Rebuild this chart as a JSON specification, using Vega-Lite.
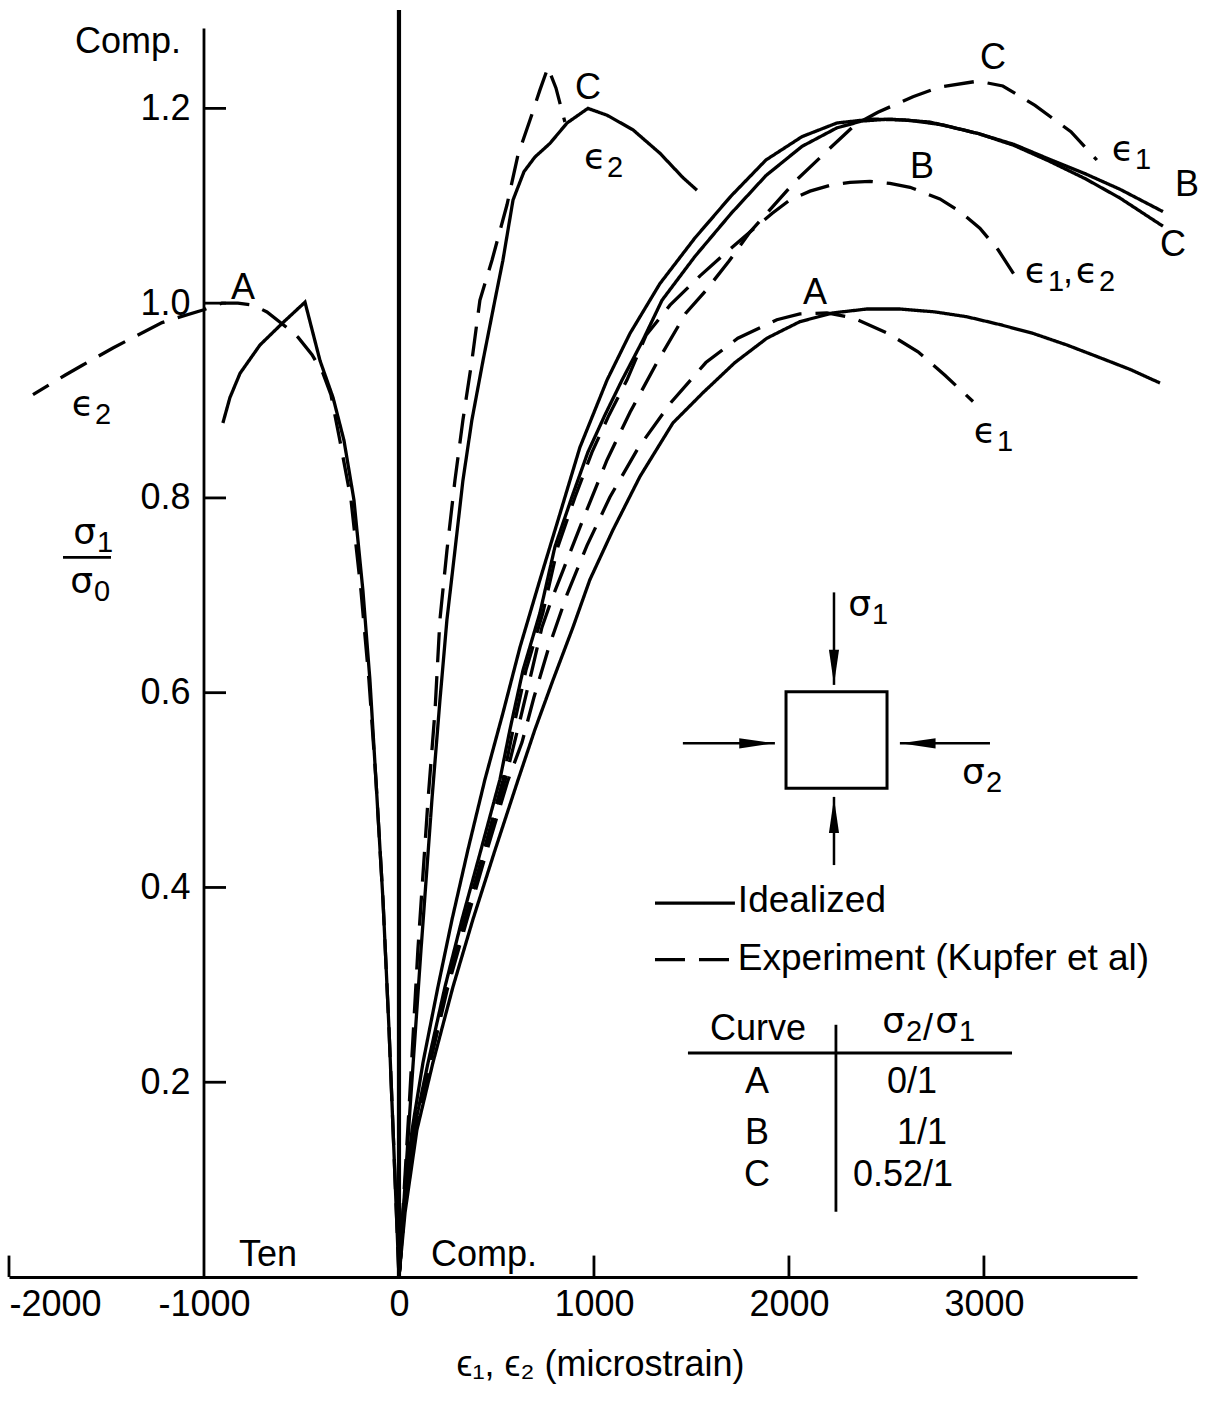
{
"$schema": "https://vega.github.io/schema/vega-lite/v6.json",
"width": 1128, "height": 1266,
"autosize": {"type": "none"},
"padding": {"left": 9, "top": 11, "right": 78, "bottom": 125},
"background": "white",
"config": {"view": {"stroke": null}, "font": "Liberation Sans", "axis": {"grid": false, "labelFont": "Liberation Sans", "titleFont": "Liberation Sans"}},
"datasets": {
"curves": [
{"c":"A_e1_i","k":"Idealized","i":0,"x":0,"y":0},{"c":"A_e1_i","k":"Idealized","i":1,"x":31,"y":0.066},{"c":"A_e1_i","k":"Idealized","i":2,"x":92,"y":0.151},{"c":"A_e1_i","k":"Idealized","i":3,"x":174,"y":0.22},{"c":"A_e1_i","k":"Idealized","i":4,"x":277,"y":0.298},{"c":"A_e1_i","k":"Idealized","i":5,"x":379,"y":0.367},{"c":"A_e1_i","k":"Idealized","i":6,"x":492,"y":0.438},{"c":"A_e1_i","k":"Idealized","i":7,"x":610,"y":0.51},{"c":"A_e1_i","k":"Idealized","i":8,"x":697,"y":0.562},{"c":"A_e1_i","k":"Idealized","i":9,"x":790,"y":0.613},{"c":"A_e1_i","k":"Idealized","i":10,"x":892,"y":0.667},{"c":"A_e1_i","k":"Idealized","i":11,"x":979,"y":0.716},{"c":"A_e1_i","k":"Idealized","i":12,"x":1097,"y":0.767},{"c":"A_e1_i","k":"Idealized","i":13,"x":1236,"y":0.822},{"c":"A_e1_i","k":"Idealized","i":14,"x":1405,"y":0.877},{"c":"A_e1_i","k":"Idealized","i":15,"x":1559,"y":0.908},{"c":"A_e1_i","k":"Idealized","i":16,"x":1723,"y":0.939},{"c":"A_e1_i","k":"Idealized","i":17,"x":1887,"y":0.964},{"c":"A_e1_i","k":"Idealized","i":18,"x":2056,"y":0.981},{"c":"A_e1_i","k":"Idealized","i":19,"x":2226,"y":0.99},{"c":"A_e1_i","k":"Idealized","i":20,"x":2400,"y":0.994},{"c":"A_e1_i","k":"Idealized","i":21,"x":2569,"y":0.994},{"c":"A_e1_i","k":"Idealized","i":22,"x":2749,"y":0.991},{"c":"A_e1_i","k":"Idealized","i":23,"x":2913,"y":0.986},{"c":"A_e1_i","k":"Idealized","i":24,"x":3082,"y":0.978},{"c":"A_e1_i","k":"Idealized","i":25,"x":3251,"y":0.969},{"c":"A_e1_i","k":"Idealized","i":26,"x":3426,"y":0.957},{"c":"A_e1_i","k":"Idealized","i":27,"x":3595,"y":0.944},{"c":"A_e1_i","k":"Idealized","i":28,"x":3749,"y":0.932},{"c":"A_e1_i","k":"Idealized","i":29,"x":3903,"y":0.918},
{"c":"A_e1_x","k":"Experiment","i":0,"x":0,"y":0},{"c":"A_e1_x","k":"Experiment","i":1,"x":26,"y":0.066},{"c":"A_e1_x","k":"Experiment","i":2,"x":82,"y":0.151},{"c":"A_e1_x","k":"Experiment","i":3,"x":159,"y":0.22},{"c":"A_e1_x","k":"Experiment","i":4,"x":251,"y":0.298},{"c":"A_e1_x","k":"Experiment","i":5,"x":349,"y":0.367},{"c":"A_e1_x","k":"Experiment","i":6,"x":451,"y":0.438},{"c":"A_e1_x","k":"Experiment","i":7,"x":559,"y":0.51},{"c":"A_e1_x","k":"Experiment","i":8,"x":631,"y":0.549},{"c":"A_e1_x","k":"Experiment","i":9,"x":692,"y":0.595},{"c":"A_e1_x","k":"Experiment","i":10,"x":769,"y":0.647},{"c":"A_e1_x","k":"Experiment","i":11,"x":862,"y":0.701},{"c":"A_e1_x","k":"Experiment","i":12,"x":964,"y":0.751},{"c":"A_e1_x","k":"Experiment","i":13,"x":1082,"y":0.801},{"c":"A_e1_x","k":"Experiment","i":14,"x":1226,"y":0.851},{"c":"A_e1_x","k":"Experiment","i":15,"x":1395,"y":0.898},{"c":"A_e1_x","k":"Experiment","i":16,"x":1574,"y":0.939},{"c":"A_e1_x","k":"Experiment","i":17,"x":1738,"y":0.964},{"c":"A_e1_x","k":"Experiment","i":18,"x":1938,"y":0.983},{"c":"A_e1_x","k":"Experiment","i":19,"x":2056,"y":0.989},{"c":"A_e1_x","k":"Experiment","i":20,"x":2195,"y":0.99},{"c":"A_e1_x","k":"Experiment","i":21,"x":2328,"y":0.985},{"c":"A_e1_x","k":"Experiment","i":22,"x":2508,"y":0.969},{"c":"A_e1_x","k":"Experiment","i":23,"x":2662,"y":0.95},{"c":"A_e1_x","k":"Experiment","i":24,"x":2800,"y":0.926},{"c":"A_e1_x","k":"Experiment","i":25,"x":2944,"y":0.899},
{"c":"B_e1_i","k":"Idealized","i":0,"x":0,"y":0},{"c":"B_e1_i","k":"Idealized","i":1,"x":21,"y":0.066},{"c":"B_e1_i","k":"Idealized","i":2,"x":67,"y":0.151},{"c":"B_e1_i","k":"Idealized","i":3,"x":123,"y":0.22},{"c":"B_e1_i","k":"Idealized","i":4,"x":200,"y":0.298},{"c":"B_e1_i","k":"Idealized","i":5,"x":272,"y":0.367},{"c":"B_e1_i","k":"Idealized","i":6,"x":354,"y":0.439},{"c":"B_e1_i","k":"Idealized","i":7,"x":441,"y":0.511},{"c":"B_e1_i","k":"Idealized","i":8,"x":533,"y":0.579},{"c":"B_e1_i","k":"Idealized","i":9,"x":621,"y":0.647},{"c":"B_e1_i","k":"Idealized","i":10,"x":723,"y":0.716},{"c":"B_e1_i","k":"Idealized","i":11,"x":826,"y":0.784},{"c":"B_e1_i","k":"Idealized","i":12,"x":928,"y":0.852},{"c":"B_e1_i","k":"Idealized","i":13,"x":1067,"y":0.921},{"c":"B_e1_i","k":"Idealized","i":14,"x":1185,"y":0.969},{"c":"B_e1_i","k":"Idealized","i":15,"x":1272,"y":0.998},{"c":"B_e1_i","k":"Idealized","i":16,"x":1338,"y":1.02},{"c":"B_e1_i","k":"Idealized","i":17,"x":1518,"y":1.067},{"c":"B_e1_i","k":"Idealized","i":18,"x":1703,"y":1.11},{"c":"B_e1_i","k":"Idealized","i":19,"x":1882,"y":1.147},{"c":"B_e1_i","k":"Idealized","i":20,"x":2067,"y":1.171},{"c":"B_e1_i","k":"Idealized","i":21,"x":2246,"y":1.185},{"c":"B_e1_i","k":"Idealized","i":22,"x":2426,"y":1.189},{"c":"B_e1_i","k":"Idealized","i":23,"x":2610,"y":1.188},{"c":"B_e1_i","k":"Idealized","i":24,"x":2790,"y":1.183},{"c":"B_e1_i","k":"Idealized","i":25,"x":2974,"y":1.174},{"c":"B_e1_i","k":"Idealized","i":26,"x":3154,"y":1.163},{"c":"B_e1_i","k":"Idealized","i":27,"x":3333,"y":1.148},{"c":"B_e1_i","k":"Idealized","i":28,"x":3518,"y":1.133},{"c":"B_e1_i","k":"Idealized","i":29,"x":3697,"y":1.117},{"c":"B_e1_i","k":"Idealized","i":30,"x":3918,"y":1.094},
{"c":"C_e1_i","k":"Idealized","i":0,"x":0,"y":0},{"c":"C_e1_i","k":"Idealized","i":1,"x":26,"y":0.066},{"c":"C_e1_i","k":"Idealized","i":2,"x":77,"y":0.151},{"c":"C_e1_i","k":"Idealized","i":3,"x":149,"y":0.22},{"c":"C_e1_i","k":"Idealized","i":4,"x":236,"y":0.298},{"c":"C_e1_i","k":"Idealized","i":5,"x":323,"y":0.367},{"c":"C_e1_i","k":"Idealized","i":6,"x":421,"y":0.439},{"c":"C_e1_i","k":"Idealized","i":7,"x":518,"y":0.511},{"c":"C_e1_i","k":"Idealized","i":8,"x":569,"y":0.562},{"c":"C_e1_i","k":"Idealized","i":9,"x":636,"y":0.623},{"c":"C_e1_i","k":"Idealized","i":10,"x":723,"y":0.682},{"c":"C_e1_i","k":"Idealized","i":11,"x":800,"y":0.75},{"c":"C_e1_i","k":"Idealized","i":12,"x":887,"y":0.801},{"c":"C_e1_i","k":"Idealized","i":13,"x":969,"y":0.847},{"c":"C_e1_i","k":"Idealized","i":14,"x":1056,"y":0.885},{"c":"C_e1_i","k":"Idealized","i":15,"x":1144,"y":0.921},{"c":"C_e1_i","k":"Idealized","i":16,"x":1251,"y":0.962},{"c":"C_e1_i","k":"Idealized","i":17,"x":1349,"y":1.003},{"c":"C_e1_i","k":"Idealized","i":18,"x":1518,"y":1.048},{"c":"C_e1_i","k":"Idealized","i":19,"x":1703,"y":1.092},{"c":"C_e1_i","k":"Idealized","i":20,"x":1882,"y":1.131},{"c":"C_e1_i","k":"Idealized","i":21,"x":2067,"y":1.161},{"c":"C_e1_i","k":"Idealized","i":22,"x":2246,"y":1.18},{"c":"C_e1_i","k":"Idealized","i":23,"x":2374,"y":1.187},{"c":"C_e1_i","k":"Idealized","i":24,"x":2518,"y":1.189},{"c":"C_e1_i","k":"Idealized","i":25,"x":2723,"y":1.186},{"c":"C_e1_i","k":"Idealized","i":26,"x":2974,"y":1.174},{"c":"C_e1_i","k":"Idealized","i":27,"x":3154,"y":1.162},{"c":"C_e1_i","k":"Idealized","i":28,"x":3333,"y":1.146},{"c":"C_e1_i","k":"Idealized","i":29,"x":3518,"y":1.128},{"c":"C_e1_i","k":"Idealized","i":30,"x":3697,"y":1.108},{"c":"C_e1_i","k":"Idealized","i":31,"x":3918,"y":1.079},
{"c":"B_x","k":"Experiment","i":0,"x":0,"y":0},{"c":"B_x","k":"Experiment","i":1,"x":26,"y":0.066},{"c":"B_x","k":"Experiment","i":2,"x":82,"y":0.151},{"c":"B_x","k":"Experiment","i":3,"x":159,"y":0.22},{"c":"B_x","k":"Experiment","i":4,"x":246,"y":0.298},{"c":"B_x","k":"Experiment","i":5,"x":338,"y":0.367},{"c":"B_x","k":"Experiment","i":6,"x":436,"y":0.438},{"c":"B_x","k":"Experiment","i":7,"x":533,"y":0.51},{"c":"B_x","k":"Experiment","i":8,"x":585,"y":0.562},{"c":"B_x","k":"Experiment","i":9,"x":651,"y":0.623},{"c":"B_x","k":"Experiment","i":10,"x":738,"y":0.682},{"c":"B_x","k":"Experiment","i":11,"x":815,"y":0.75},{"c":"B_x","k":"Experiment","i":12,"x":903,"y":0.801},{"c":"B_x","k":"Experiment","i":13,"x":990,"y":0.847},{"c":"B_x","k":"Experiment","i":14,"x":1077,"y":0.885},{"c":"B_x","k":"Experiment","i":15,"x":1169,"y":0.921},{"c":"B_x","k":"Experiment","i":16,"x":1267,"y":0.967},{"c":"B_x","k":"Experiment","i":17,"x":1390,"y":0.998},{"c":"B_x","k":"Experiment","i":18,"x":1544,"y":1.028},{"c":"B_x","k":"Experiment","i":19,"x":1672,"y":1.051},{"c":"B_x","k":"Experiment","i":20,"x":1800,"y":1.073},{"c":"B_x","k":"Experiment","i":21,"x":1913,"y":1.092},{"c":"B_x","k":"Experiment","i":22,"x":2005,"y":1.106},{"c":"B_x","k":"Experiment","i":23,"x":2108,"y":1.115},{"c":"B_x","k":"Experiment","i":24,"x":2210,"y":1.121},{"c":"B_x","k":"Experiment","i":25,"x":2313,"y":1.124},{"c":"B_x","k":"Experiment","i":26,"x":2415,"y":1.125},{"c":"B_x","k":"Experiment","i":27,"x":2518,"y":1.123},{"c":"B_x","k":"Experiment","i":28,"x":2621,"y":1.119},{"c":"B_x","k":"Experiment","i":29,"x":2774,"y":1.107},{"c":"B_x","k":"Experiment","i":30,"x":2877,"y":1.094},{"c":"B_x","k":"Experiment","i":31,"x":2979,"y":1.077},{"c":"B_x","k":"Experiment","i":32,"x":3072,"y":1.055},{"c":"B_x","k":"Experiment","i":33,"x":3179,"y":1.022},
{"c":"C_e1_x","k":"Experiment","i":0,"x":0,"y":0},{"c":"C_e1_x","k":"Experiment","i":1,"x":26,"y":0.066},{"c":"C_e1_x","k":"Experiment","i":2,"x":82,"y":0.151},{"c":"C_e1_x","k":"Experiment","i":3,"x":154,"y":0.22},{"c":"C_e1_x","k":"Experiment","i":4,"x":246,"y":0.298},{"c":"C_e1_x","k":"Experiment","i":5,"x":338,"y":0.367},{"c":"C_e1_x","k":"Experiment","i":6,"x":441,"y":0.438},{"c":"C_e1_x","k":"Experiment","i":7,"x":544,"y":0.51},{"c":"C_e1_x","k":"Experiment","i":8,"x":621,"y":0.572},{"c":"C_e1_x","k":"Experiment","i":9,"x":682,"y":0.623},{"c":"C_e1_x","k":"Experiment","i":10,"x":733,"y":0.667},{"c":"C_e1_x","k":"Experiment","i":11,"x":785,"y":0.697},{"c":"C_e1_x","k":"Experiment","i":12,"x":846,"y":0.728},{"c":"C_e1_x","k":"Experiment","i":13,"x":954,"y":0.783},{"c":"C_e1_x","k":"Experiment","i":14,"x":1067,"y":0.839},{"c":"C_e1_x","k":"Experiment","i":15,"x":1185,"y":0.888},{"c":"C_e1_x","k":"Experiment","i":16,"x":1323,"y":0.939},{"c":"C_e1_x","k":"Experiment","i":17,"x":1472,"y":0.99},{"c":"C_e1_x","k":"Experiment","i":18,"x":1574,"y":1.013},{"c":"C_e1_x","k":"Experiment","i":19,"x":1692,"y":1.043},{"c":"C_e1_x","k":"Experiment","i":20,"x":1800,"y":1.073},{"c":"C_e1_x","k":"Experiment","i":21,"x":1903,"y":1.096},{"c":"C_e1_x","k":"Experiment","i":22,"x":2036,"y":1.126},{"c":"C_e1_x","k":"Experiment","i":23,"x":2210,"y":1.159},{"c":"C_e1_x","k":"Experiment","i":24,"x":2338,"y":1.183},{"c":"C_e1_x","k":"Experiment","i":25,"x":2456,"y":1.196},{"c":"C_e1_x","k":"Experiment","i":26,"x":2636,"y":1.212},{"c":"C_e1_x","k":"Experiment","i":27,"x":2774,"y":1.222},{"c":"C_e1_x","k":"Experiment","i":28,"x":2969,"y":1.228},{"c":"C_e1_x","k":"Experiment","i":29,"x":3097,"y":1.223},{"c":"C_e1_x","k":"Experiment","i":30,"x":3262,"y":1.203},{"c":"C_e1_x","k":"Experiment","i":31,"x":3446,"y":1.176},{"c":"C_e1_x","k":"Experiment","i":32,"x":3579,"y":1.147},
{"c":"C_e2_i","k":"Idealized","i":0,"x":0,"y":0},{"c":"C_e2_i","k":"Idealized","i":1,"x":56,"y":0.171},{"c":"C_e2_i","k":"Idealized","i":2,"x":113,"y":0.336},{"c":"C_e2_i","k":"Idealized","i":3,"x":169,"y":0.49},{"c":"C_e2_i","k":"Idealized","i":4,"x":210,"y":0.592},{"c":"C_e2_i","k":"Idealized","i":5,"x":246,"y":0.675},{"c":"C_e2_i","k":"Idealized","i":6,"x":287,"y":0.746},{"c":"C_e2_i","k":"Idealized","i":7,"x":328,"y":0.818},{"c":"C_e2_i","k":"Idealized","i":8,"x":374,"y":0.88},{"c":"C_e2_i","k":"Idealized","i":9,"x":431,"y":0.941},{"c":"C_e2_i","k":"Idealized","i":10,"x":492,"y":1.003},{"c":"C_e2_i","k":"Idealized","i":11,"x":533,"y":1.044},{"c":"C_e2_i","k":"Idealized","i":12,"x":585,"y":1.106},{"c":"C_e2_i","k":"Idealized","i":13,"x":641,"y":1.135},{"c":"C_e2_i","k":"Idealized","i":14,"x":697,"y":1.15},{"c":"C_e2_i","k":"Idealized","i":15,"x":774,"y":1.164},{"c":"C_e2_i","k":"Idealized","i":16,"x":862,"y":1.185},{"c":"C_e2_i","k":"Idealized","i":17,"x":969,"y":1.2},{"c":"C_e2_i","k":"Idealized","i":18,"x":1067,"y":1.193},{"c":"C_e2_i","k":"Idealized","i":19,"x":1200,"y":1.178},{"c":"C_e2_i","k":"Idealized","i":20,"x":1338,"y":1.154},{"c":"C_e2_i","k":"Idealized","i":21,"x":1456,"y":1.129},{"c":"C_e2_i","k":"Idealized","i":22,"x":1528,"y":1.116},
{"c":"C_e2_x","k":"Experiment","i":0,"x":0,"y":0},{"c":"C_e2_x","k":"Experiment","i":1,"x":51,"y":0.171},{"c":"C_e2_x","k":"Experiment","i":2,"x":97,"y":0.336},{"c":"C_e2_x","k":"Experiment","i":3,"x":149,"y":0.49},{"c":"C_e2_x","k":"Experiment","i":4,"x":185,"y":0.582},{"c":"C_e2_x","k":"Experiment","i":5,"x":210,"y":0.675},{"c":"C_e2_x","k":"Experiment","i":6,"x":246,"y":0.746},{"c":"C_e2_x","k":"Experiment","i":7,"x":287,"y":0.818},{"c":"C_e2_x","k":"Experiment","i":8,"x":328,"y":0.88},{"c":"C_e2_x","k":"Experiment","i":9,"x":374,"y":0.941},{"c":"C_e2_x","k":"Experiment","i":10,"x":415,"y":1.003},{"c":"C_e2_x","k":"Experiment","i":11,"x":477,"y":1.044},{"c":"C_e2_x","k":"Experiment","i":12,"x":554,"y":1.101},{"c":"C_e2_x","k":"Experiment","i":13,"x":610,"y":1.152},{"c":"C_e2_x","k":"Experiment","i":14,"x":672,"y":1.188},{"c":"C_e2_x","k":"Experiment","i":15,"x":723,"y":1.219},{"c":"C_e2_x","k":"Experiment","i":16,"x":764,"y":1.242},{"c":"C_e2_x","k":"Experiment","i":17,"x":805,"y":1.221},{"c":"C_e2_x","k":"Experiment","i":18,"x":851,"y":1.186},
{"c":"A_e2_i","k":"Idealized","i":0,"x":0,"y":0},{"c":"A_e2_i","k":"Idealized","i":1,"x":-26,"y":0.13},{"c":"A_e2_i","k":"Idealized","i":2,"x":-51,"y":0.254},{"c":"A_e2_i","k":"Idealized","i":3,"x":-82,"y":0.387},{"c":"A_e2_i","k":"Idealized","i":4,"x":-118,"y":0.51},{"c":"A_e2_i","k":"Idealized","i":5,"x":-149,"y":0.613},{"c":"A_e2_i","k":"Idealized","i":6,"x":-185,"y":0.705},{"c":"A_e2_i","k":"Idealized","i":7,"x":-231,"y":0.798},{"c":"A_e2_i","k":"Idealized","i":8,"x":-282,"y":0.859},{"c":"A_e2_i","k":"Idealized","i":9,"x":-338,"y":0.903},{"c":"A_e2_i","k":"Idealized","i":10,"x":-405,"y":0.941},{"c":"A_e2_i","k":"Idealized","i":11,"x":-482,"y":1.001},{"c":"A_e2_i","k":"Idealized","i":12,"x":-595,"y":0.98},{"c":"A_e2_i","k":"Idealized","i":13,"x":-713,"y":0.957},{"c":"A_e2_i","k":"Idealized","i":14,"x":-815,"y":0.928},{"c":"A_e2_i","k":"Idealized","i":15,"x":-867,"y":0.903},{"c":"A_e2_i","k":"Idealized","i":16,"x":-903,"y":0.877},
{"c":"A_e2_x","k":"Experiment","i":0,"x":0,"y":0},{"c":"A_e2_x","k":"Experiment","i":1,"x":-26,"y":0.13},{"c":"A_e2_x","k":"Experiment","i":2,"x":-51,"y":0.254},{"c":"A_e2_x","k":"Experiment","i":3,"x":-82,"y":0.387},{"c":"A_e2_x","k":"Experiment","i":4,"x":-118,"y":0.51},{"c":"A_e2_x","k":"Experiment","i":5,"x":-154,"y":0.613},{"c":"A_e2_x","k":"Experiment","i":6,"x":-195,"y":0.705},{"c":"A_e2_x","k":"Experiment","i":7,"x":-246,"y":0.798},{"c":"A_e2_x","k":"Experiment","i":8,"x":-303,"y":0.859},{"c":"A_e2_x","k":"Experiment","i":9,"x":-349,"y":0.906},{"c":"A_e2_x","k":"Experiment","i":10,"x":-390,"y":0.928},{"c":"A_e2_x","k":"Experiment","i":11,"x":-446,"y":0.947},{"c":"A_e2_x","k":"Experiment","i":12,"x":-518,"y":0.965},{"c":"A_e2_x","k":"Experiment","i":13,"x":-569,"y":0.974},{"c":"A_e2_x","k":"Experiment","i":14,"x":-677,"y":0.991},{"c":"A_e2_x","k":"Experiment","i":15,"x":-749,"y":0.998},{"c":"A_e2_x","k":"Experiment","i":16,"x":-826,"y":1.0},{"c":"A_e2_x","k":"Experiment","i":17,"x":-908,"y":1.0},{"c":"A_e2_x","k":"Experiment","i":18,"x":-1005,"y":0.993},{"c":"A_e2_x","k":"Experiment","i":19,"x":-1138,"y":0.985},{"c":"A_e2_x","k":"Experiment","i":20,"x":-1215,"y":0.98},{"c":"A_e2_x","k":"Experiment","i":21,"x":-1390,"y":0.962},{"c":"A_e2_x","k":"Experiment","i":22,"x":-1467,"y":0.954},{"c":"A_e2_x","k":"Experiment","i":23,"x":-1626,"y":0.936},{"c":"A_e2_x","k":"Experiment","i":24,"x":-1713,"y":0.926},{"c":"A_e2_x","k":"Experiment","i":25,"x":-1877,"y":0.906}
],
"thin": [
{"x":-1000,"x2":-1000,"y":0,"y2":1.282},
{"x":1482,"x2":3144,"y":0.23,"y2":0.23},
{"x":2241,"x2":2241,"y":0.259,"y2":0.067},
{"x":-1723,"x2":-1477,"y":0.739,"y2":0.739},
{"x":-2000,"x2":-2000,"y":0,"y2":0.022},
{"x":1000,"x2":1000,"y":0,"y2":0.022},
{"x":2000,"x2":2000,"y":0,"y2":0.022},
{"x":3000,"x2":3000,"y":0,"y2":0.022},
{"x":-1000,"x2":-887,"y":0.2,"y2":0.2},
{"x":-1000,"x2":-887,"y":0.4,"y2":0.4},
{"x":-1000,"x2":-887,"y":0.6,"y2":0.6},
{"x":-1000,"x2":-887,"y":0.8,"y2":0.8},
{"x":-1000,"x2":-887,"y":1.0,"y2":1.0},
{"x":-1000,"x2":-887,"y":1.2,"y2":1.2}
],
"shafts": [
{"x":2231,"x2":2231,"y":0.703,"y2":0.608},
{"x":2231,"x2":2231,"y":0.423,"y2":0.493},
{"x":1456,"x2":1928,"y":0.548,"y2":0.548},
{"x":3031,"x2":2569,"y":0.548,"y2":0.548}
],
"heads": [
{"x":2231,"y":0.632,"a":180},
{"x":2231,"y":0.468,"a":0},
{"x":1805,"y":0.548,"a":90},
{"x":2692,"y":0.548,"a":270}
],
"box": [{"x":1985,"x2":2503,"y":0.601,"y2":0.502}],
"legendLines": [
{"x":1313,"x2":1723,"y":0.384,"k":"Idealized"},
{"x":1313,"x2":1723,"y":0.326,"k":"Experiment"}
],
"legendText": [
{"t":"Idealized","x":1738,"y":0.386},
{"t":"Experiment (Kupfer et al)","x":1738,"y":0.327}
],
"labels": [
{"t":"Comp.","x":-1390,"y":1.268},
{"t":"A","x":-800,"y":1.016},
{"t":"C","x":969,"y":1.221},
{"t":"C","x":3046,"y":1.252},
{"t":"B","x":2682,"y":1.14},
{"t":",","x":3431,"y":1.032},
{"t":"B","x":4041,"y":1.121},
{"t":"C","x":3969,"y":1.06},
{"t":"A","x":2133,"y":1.01},
{"t":"Ten","x":-672,"y":0.023},
{"t":"Comp.","x":436,"y":0.023},
{"t":"Curve","x":1841,"y":0.255},
{"t":"/","x":2713,"y":0.255},
{"t":"A","x":1836,"y":0.2},
{"t":"0/1","x":2631,"y":0.2},
{"t":"B","x":1836,"y":0.148},
{"t":"1/1","x":2682,"y":0.148},
{"t":"C","x":1836,"y":0.105},
{"t":"0.52/1","x":2585,"y":0.105}
],
"greek": [
{"t":"ϵ","s":"2","x":-1564,"y":0.895},
{"t":"ϵ","s":"2","x":1062,"y":1.149},
{"t":"ϵ","s":"1","x":3769,"y":1.157},
{"t":"ϵ","s":"1","x":3323,"y":1.032},
{"t":"ϵ","s":"2","x":3585,"y":1.032},
{"t":"ϵ","s":"1","x":3062,"y":0.868},
{"t":"σ","s":"1","x":2421,"y":0.69},
{"t":"σ","s":"2","x":3005,"y":0.518},
{"t":"σ","s":"2","x":2595,"y":0.262},
{"t":"σ","s":"1","x":2867,"y":0.262},
{"t":"σ","s":"1","x":-1554,"y":0.764},
{"t":"σ","s":"0","x":-1569,"y":0.714}
]
},
"layer": [
{
"data": {"name": "curves"},
"mark": {"type": "line", "strokeWidth": 3.3, "color": "black", "strokeCap": "butt"},
"encoding": {
"x": {"field": "x", "type": "quantitative", "scale": {"domain": [-2000, 3785], "nice": false, "zero": false},
"axis": {"values": [-2000, -1000, 0, 1000, 2000, 3000], "ticks": false, "domainColor": "black", "domainWidth": 3,
"labelFontSize": 36, "labelColor": "black", "labelPadding": 10, "labelFlush": false, "labelOverlap": false,
"labelAlign": {"condition": {"test": "datum.value === -2000", "value": "left"}, "value": "center"},
"labelExpr": "datum.value < 0 ? '-' + abs(datum.value) : '' + datum.value",
"title": "ϵ₁, ϵ₂ (microstrain)", "titleFontSize": 36, "titleFontWeight": "normal", "titleColor": "black",
"titleX": 591, "titleY": 87, "titleBaseline": "middle", "titleAnchor": "middle"}},
"y": {"field": "y", "type": "quantitative", "scale": {"domain": [0, 1.3], "nice": false, "zero": false},
"axis": {"values": [0.2, 0.4, 0.6, 0.8, 1.0, 1.2], "format": ".1f", "offset": -195, "ticks": false, "domain": false,
"labelFontSize": 36, "labelColor": "black", "labelPadding": 14, "title": null}},
"detail": {"field": "c", "type": "nominal"},
"order": {"field": "i", "type": "quantitative"},
"strokeDash": {"field": "k", "type": "nominal", "scale": {"domain": ["Idealized", "Experiment"], "range": [[1, 0], [30, 14]]}, "legend": null}
}
},
{
"data": {"name": "thin"},
"mark": {"type": "rule", "strokeWidth": 2.8, "color": "black"},
"encoding": {
"x": {"field": "x", "type": "quantitative"}, "x2": {"field": "x2"},
"y": {"field": "y", "type": "quantitative"}, "y2": {"field": "y2"}
}
},
{
"data": {"values": [{"x": 0, "y": 0, "y2": 1.301}]},
"mark": {"type": "rule", "strokeWidth": 4.2, "color": "black"},
"encoding": {
"x": {"field": "x", "type": "quantitative"},
"y": {"field": "y", "type": "quantitative"}, "y2": {"field": "y2"}
}
},
{
"data": {"name": "shafts"},
"mark": {"type": "rule", "strokeWidth": 2.5, "color": "black"},
"encoding": {
"x": {"field": "x", "type": "quantitative"}, "x2": {"field": "x2"},
"y": {"field": "y", "type": "quantitative"}, "y2": {"field": "y2"}
}
},
{
"data": {"name": "heads"},
"mark": {"type": "point", "shape": "wedge", "filled": true, "color": "black", "size": 1632, "opacity": 1},
"encoding": {
"x": {"field": "x", "type": "quantitative"},
"y": {"field": "y", "type": "quantitative"},
"angle": {"field": "a", "type": "quantitative", "scale": null}
}
},
{
"data": {"name": "box"},
"mark": {"type": "rect", "fill": "white", "fillOpacity": 0, "stroke": "black", "strokeWidth": 3},
"encoding": {
"x": {"field": "x", "type": "quantitative"}, "x2": {"field": "x2"},
"y": {"field": "y", "type": "quantitative"}, "y2": {"field": "y2"}
}
},
{
"data": {"name": "legendLines"},
"mark": {"type": "rule", "strokeWidth": 3.3, "color": "black"},
"encoding": {
"x": {"field": "x", "type": "quantitative"}, "x2": {"field": "x2"},
"y": {"field": "y", "type": "quantitative"},
"strokeDash": {"field": "k", "type": "nominal", "scale": {"domain": ["Idealized", "Experiment"], "range": [[1, 0], [30, 14]]}, "legend": null}
}
},
{
"data": {"name": "legendText"},
"mark": {"type": "text", "align": "left", "baseline": "middle", "font": "Liberation Sans", "fontSize": 37, "color": "black"},
"encoding": {
"x": {"field": "x", "type": "quantitative"},
"y": {"field": "y", "type": "quantitative"},
"text": {"field": "t"}
}
},
{
"data": {"name": "labels"},
"mark": {"type": "text", "align": "center", "baseline": "middle", "font": "Liberation Sans", "fontSize": 36, "color": "black"},
"encoding": {
"x": {"field": "x", "type": "quantitative"},
"y": {"field": "y", "type": "quantitative"},
"text": {"field": "t"}
}
},
{
"data": {"name": "greek"},
"mark": {"type": "text", "align": "right", "baseline": "middle", "font": "DejaVu Sans", "fontSize": 36, "color": "black"},
"encoding": {
"x": {"field": "x", "type": "quantitative"},
"y": {"field": "y", "type": "quantitative"},
"text": {"field": "t"}
}
},
{
"data": {"name": "greek"},
"mark": {"type": "text", "align": "left", "baseline": "middle", "font": "Liberation Sans", "fontSize": 29, "dx": 1, "dy": 10, "color": "black"},
"encoding": {
"x": {"field": "x", "type": "quantitative"},
"y": {"field": "y", "type": "quantitative"},
"text": {"field": "s"}
}
}
]
}
